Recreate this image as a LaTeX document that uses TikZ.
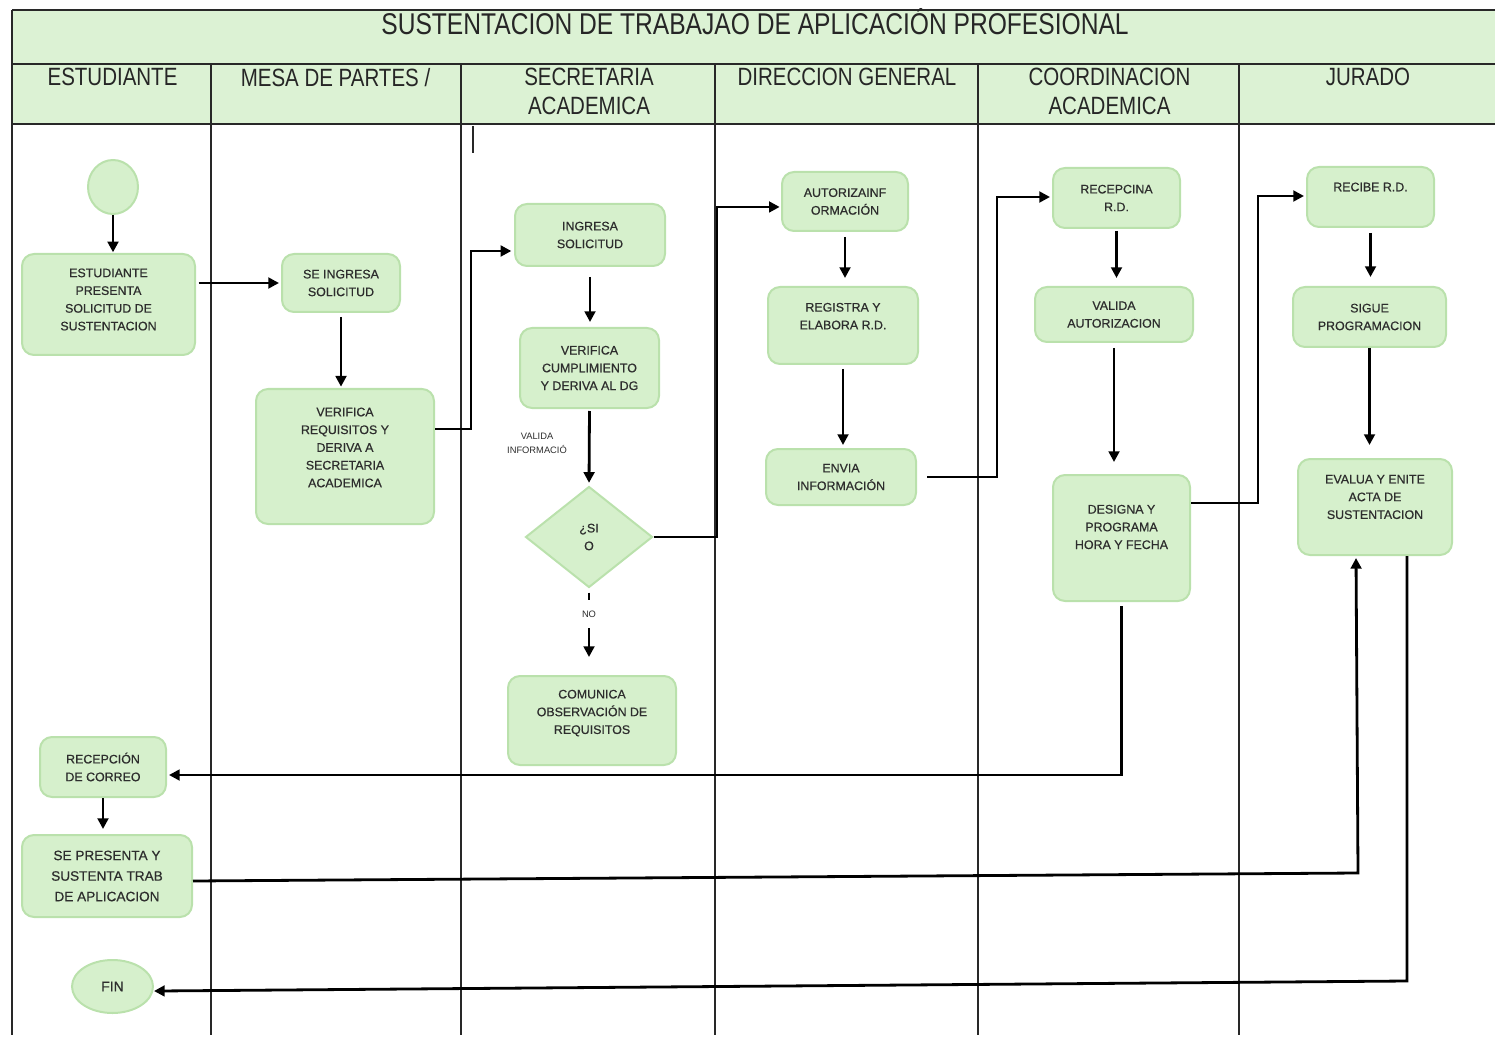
\documentclass[tikz,border=0pt]{standalone}
\usepackage{fontspec}
\setmainfont{Liberation Sans}
\newfontfamily\narrowfont[FakeStretch=0.82]{Liberation Sans}
\newfontfamily\boxfont[FakeBold=0.6]{Liberation Sans}
\usetikzlibrary{shapes.geometric,arrows.meta,calc}
\definecolor{nfill}{RGB}{214,240,204}
\definecolor{ndraw}{RGB}{186,225,172}
\definecolor{hfill}{RGB}{220,242,212}
\definecolor{ntext}{RGB}{45,45,45}
\definecolor{lanecol}{RGB}{40,40,40}
\begin{document}
\begin{tikzpicture}[x=0.75pt,y=-0.75pt,
  laneline/.style={draw=lanecol,line width=1.1pt},
  hdr/.style={font=\narrowfont\fontsize{18.75}{21.75}\selectfont,text=black!85,align=center,inner sep=0pt},
  ttl/.style={font=\narrowfont\fontsize{22.5}{26}\selectfont,text=black!85,inner sep=0pt},
  boxtxt/.style={font=\boxfont\fontsize{9.3}{13.3}\selectfont,text=ntext,align=center,inner sep=0pt},
  box/.style={boxtxt,draw=ndraw,fill=nfill,line width=1.5pt,rounded corners=9pt},
  oval/.style={boxtxt,shape=ellipse,draw=ndraw,fill=nfill,line width=1.5pt},
  decision/.style={boxtxt,shape=diamond,draw=ndraw,fill=nfill,line width=1.5pt},
  smalltxt/.style={font=\fontsize{7}{11}\selectfont,text=ntext,align=center,inner sep=0pt},
  nolbl/.style={smalltxt,fill=white,inner xsep=2pt,inner ysep=8pt},
  arr/.style={draw=black,line width=2.1pt,-{Triangle[length=8pt,width=8pt]}}
]
\useasboundingbox (0,0) rectangle (1495,1037);
% header
\fill[hfill] (12,10) rectangle (1495,124);
\draw[laneline] (12,10) -- (1495,10);
\draw[laneline] (12,64) -- (1495,64);
\draw[laneline] (12,124) -- (1495,124);
\draw[laneline] (12,10) -- (12,1035);
\foreach \x in {211,461,715,978,1239} \draw[laneline] (\x,64) -- (\x,1035);
\draw[laneline] (473,126) -- (473,153);
\node[ttl,anchor=base] (title) at (755,35) {SUSTENTACION DE TRABAJAO DE APLICACIÓN PROFESIONAL};
\node[hdr,anchor=north] (h1) at (112.5,68) {ESTUDIANTE};
\node[hdr,anchor=north] (h2) at (335.5,68) {MESA DE PARTES /};
\node[hdr,anchor=north] (h3) at (589,68) {SECRETARIA\\ACADEMICA};
\node[hdr,anchor=north] (h4) at (847,68) {DIRECCION GENERAL};
\node[hdr,anchor=north] (h5) at (1109.5,68) {COORDINACION\\ACADEMICA};
\node[hdr,anchor=north] (h6) at (1368,68) {JURADO};
% nodes
\node[oval,minimum width=37.5pt,minimum height=40.5pt] (start) at (113,187) {};
\node[box,minimum width=129.75pt,minimum height=75.75pt,label={[boxtxt,yshift=3.75pt]center:ESTUDIANTE\\PRESENTA\\SOLICITUD DE\\SUSTENTACION}] (n1) at (108.5,304.5) {};
\node[box,minimum width=88.5pt,minimum height=43.5pt] (n2) at (341,283) {SE INGRESA\\SOLICITUD};
\node[box,minimum width=133.5pt,minimum height=101.25pt,label={[boxtxt,yshift=6.75pt]center:VERIFICA\\REQUISITOS Y\\DERIVA A\\SECRETARIA\\ACADEMICA}] (n3) at (345,456.5) {};
\node[box,minimum width=112.5pt,minimum height=46.5pt] (n4) at (590,235) {INGRESA\\SOLICITUD};
\node[box,minimum width=104.25pt,minimum height=60pt] (n5) at (589.5,368) {VERIFICA\\CUMPLIMIENTO\\Y DERIVA AL DG};
\node[smalltxt] (val) at (537,443.5) {VALIDA\\INFORMACIÓ};
\node[decision,minimum width=95.25pt,minimum height=75.75pt] (dia) at (589,537) {¿SI\\O};
\node[box,minimum width=126pt,minimum height=66.75pt,label={[boxtxt,yshift=5.6pt]center:COMUNICA\\OBSERVACIÓN DE\\REQUISITOS}] (n6) at (592,720.5) {};
\node[box,minimum width=94.5pt,minimum height=44.25pt] (n7) at (845,201.5) {AUTORIZAINF\\ORMACIÓN};
\node[box,minimum width=112.5pt,minimum height=57.75pt,label={[boxtxt,yshift=7pt]center:REGISTRA Y\\ELABORA R.D.}] (n8) at (843,325.5) {};
\node[box,minimum width=112.5pt,minimum height=42pt] (n9) at (841,477) {ENVIA\\INFORMACIÓN};
\node[box,minimum width=95.25pt,minimum height=45pt] (n10) at (1116.5,198) {RECEPCINA\\R.D.};
\node[box,minimum width=118.5pt,minimum height=41.25pt] (n11) at (1114,314.5) {VALIDA\\AUTORIZACION};
\node[box,minimum width=102.75pt,minimum height=94.5pt,label={[boxtxt,yshift=8.25pt]center:DESIGNA Y\\PROGRAMA\\HORA Y FECHA}] (n12) at (1121.5,538) {};
\node[box,minimum width=95.25pt,minimum height=45pt,label={[boxtxt,yshift=7.5pt]center:RECIBE R.D.}] (n13) at (1370.5,197) {};
\node[box,minimum width=114.75pt,minimum height=45pt] (n14) at (1369.5,317) {SIGUE\\PROGRAMACION};
\node[box,minimum width=115.5pt,minimum height=72pt,label={[boxtxt,yshift=7.5pt]center:EVALUA Y ENITE\\ACTA DE\\SUSTENTACION}] (n15) at (1375,507) {};
\node[box,minimum width=94.5pt,minimum height=45pt] (n16) at (103,767) {RECEPCIÓN\\DE CORREO};
\node[box,minimum width=127.5pt,minimum height=61.5pt,font=\boxfont\fontsize{10.2}{15.4}\selectfont] (n17) at (107,876) {SE PRESENTA Y\\SUSTENTA TRAB\\DE APLICACION};
\node[oval,minimum width=60.75pt,minimum height=39.75pt,font=\boxfont\fontsize{10.5}{12}\selectfont] (n18) at (112.5,986.5) {FIN};
% connectors
\draw[arr,shorten >=0.5pt] (start.south) -- (start.south |- n1.north);
\draw[arr,shorten <=2pt,shorten >=1.5pt] (n1.east |- n2.west) -- (n2.west);
\draw[arr,shorten <=3pt,shorten >=1pt] (n2.south) -- (n2.south |- n3.north);
\draw[arr,shorten >=2pt] ([yshift=20.6pt]n3.east) -| ([xshift=-32.25pt,yshift=-12pt]n4.west) -- ([yshift=-12pt]n4.west);
\draw[arr,shorten <=7.5pt,shorten >=3.75pt] (n4.south) -- (n4.south |- n5.north);
\draw[arr,shorten <=1.5pt,shorten >=2pt] (n5.south) -- (dia.north);
\draw[arr,shorten <=3pt,shorten >=13.5pt] (dia.south) -- node[nolbl,pos=0.3] (no) {NO} (dia.south |- n6.north);
\draw[arr,shorten >=1pt] (dia.east) -| ([xshift=-48pt,yshift=-4.1pt]n7.west) -- ([yshift=-4.1pt]n7.west);
\draw[arr,shorten <=3.75pt,shorten >=6pt] (n7.south) -- (n7.south |- n8.north);
\draw[arr,shorten <=3pt,shorten >=2.25pt] (n8.south) -- (n8.south |- n9.north);
\draw[arr,shorten <=7.5pt,shorten >=1.5pt] (n9.east) -| ([xshift=-41.25pt,yshift=0.75pt]n10.west) -- ([yshift=0.75pt]n10.west);
\draw[arr,shorten <=1.5pt,shorten >=6pt] (n10.south) -- (n10.south |- n11.north);
\draw[arr,shorten <=3.75pt,shorten >=9pt] (n11.south) -- (n11.south |- n12.north);
\draw[arr,shorten >=1.5pt] ([yshift=26.25pt]n12.east) -| ([xshift=-36pt,yshift=0.75pt]n13.west) -- ([yshift=0.75pt]n13.west);
\draw[arr,shorten <=3.75pt,shorten >=6.75pt] (n13.south) -- (n13.south |- n14.north);
\draw[arr,shorten >=9.75pt] (n14.south) -- (n14.south |- n15.north);
\draw[arr,shorten <=3pt,shorten >=1.5pt] (n12.south) |- ([yshift=-6pt]n16.east);
\draw[arr,shorten >=3.75pt] (n16.south) -- (n16.south |- n17.north);
\draw[arr,shorten >=1.5pt] ([yshift=-3.75pt]n17.east) -- ([xshift=-12.75pt,yshift=-237.75pt]n15.south) -- ([xshift=-14.25pt]n15.south);
\draw[arr] ([xshift=24pt]n15.south) -- ([xshift=24pt,yshift=-318.75pt]n15.south) -- ([yshift=-3.4pt]n18.east);
\end{tikzpicture}
\end{document}
